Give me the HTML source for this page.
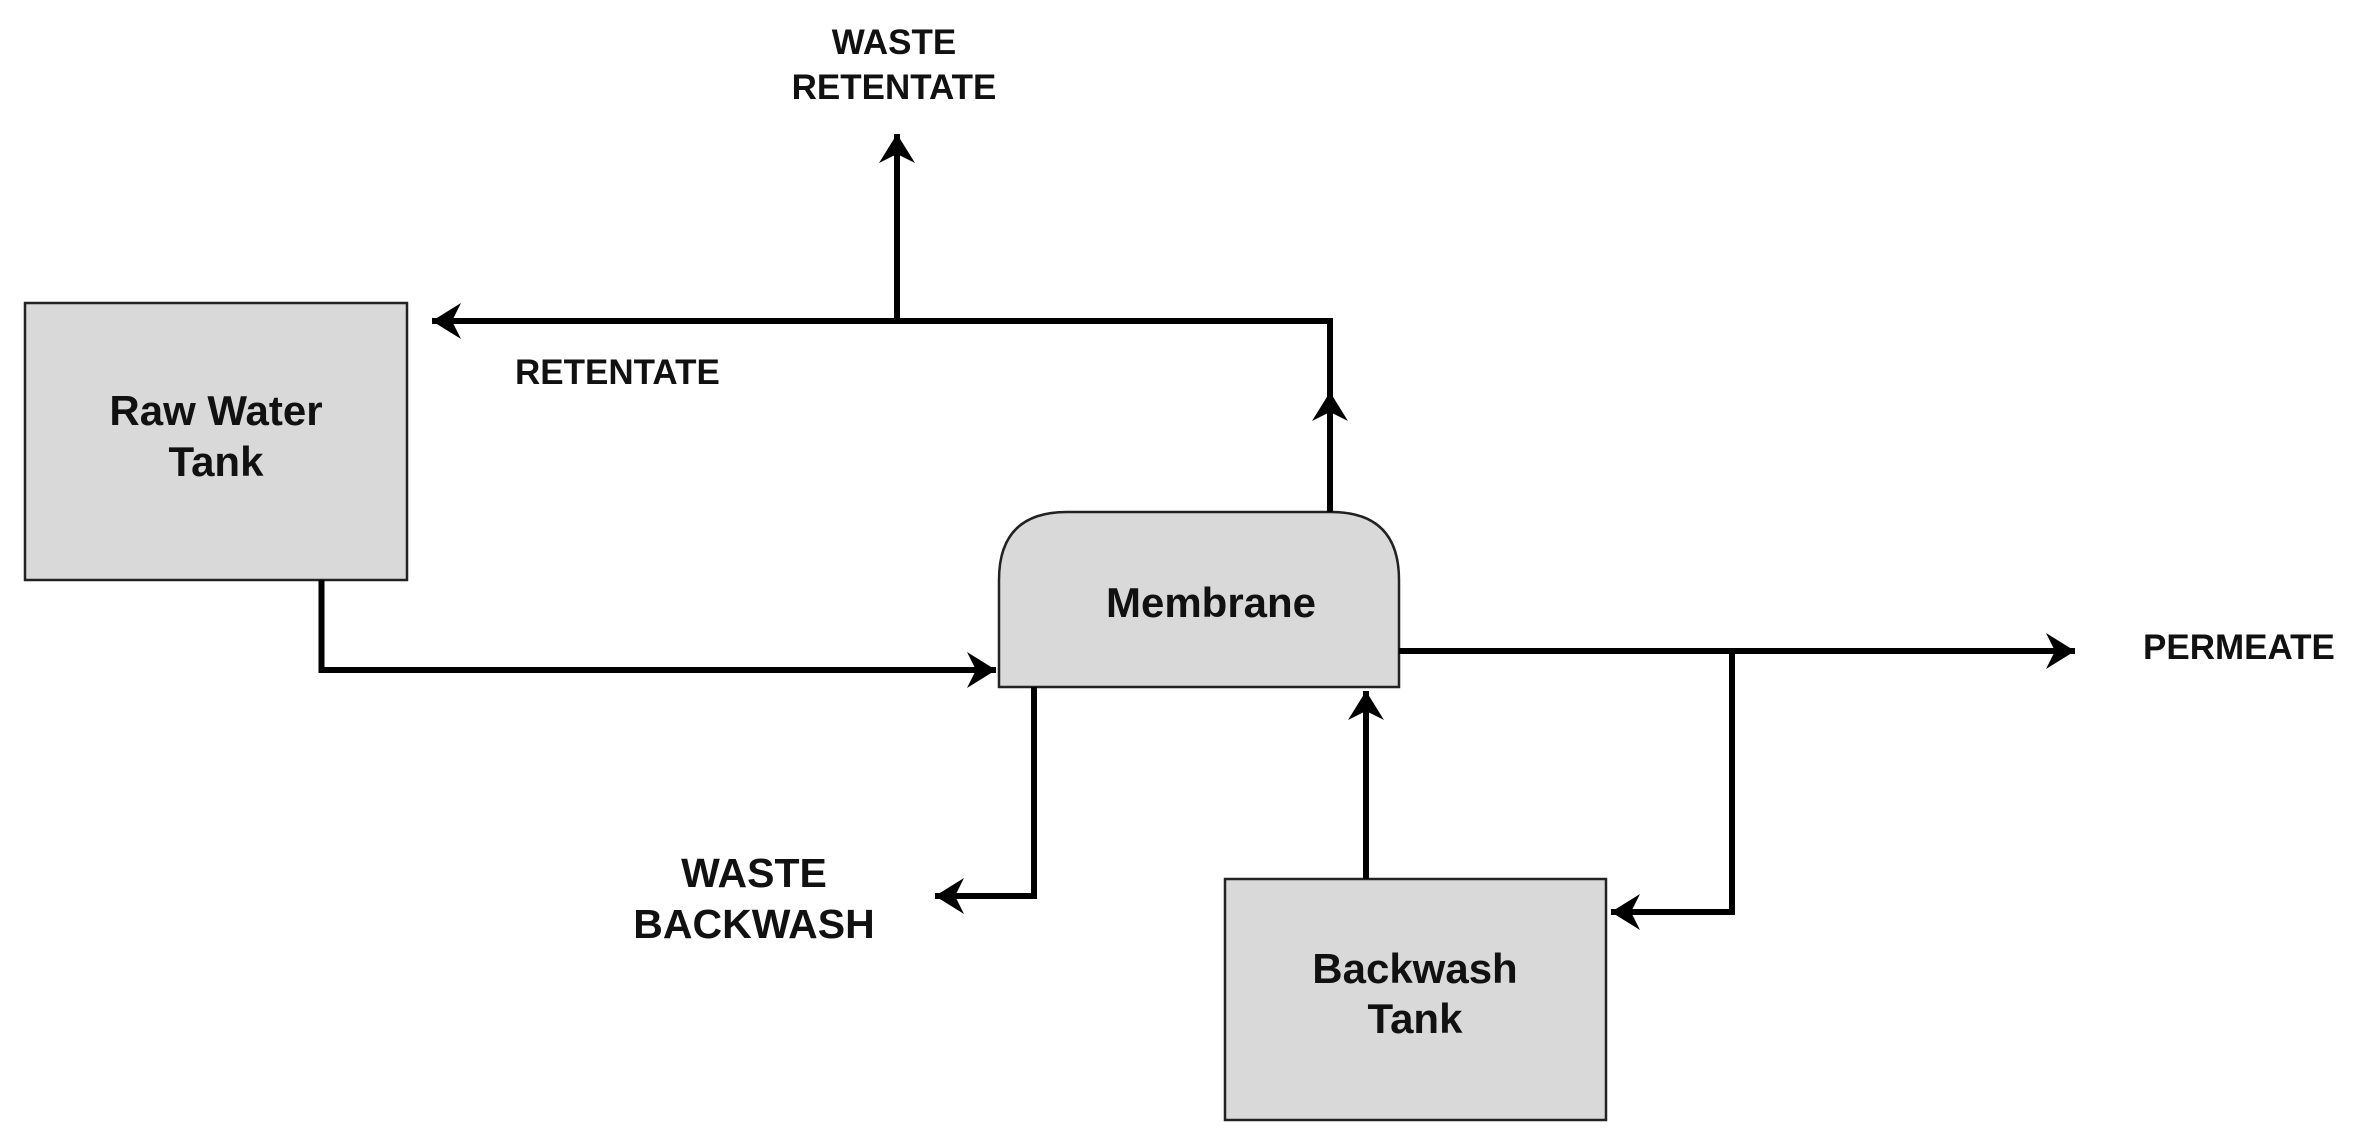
<!DOCTYPE html>
<html><head><meta charset="utf-8"><style>
html,body{margin:0;padding:0;background:#fff}
svg{display:block}
text{font-family:"Liberation Sans",Arial,sans-serif;font-weight:bold;fill:#111}
</style></head><body>
<svg width="2356" height="1144" viewBox="0 0 2356 1144" xmlns="http://www.w3.org/2000/svg">
<defs>
<marker id="a" viewBox="0 0 30 40" refX="29" refY="20" markerWidth="30" markerHeight="40" markerUnits="userSpaceOnUse" orient="auto">
<path d="M29,20 L0,2 L9,20 L0,38 Z" fill="#000"/>
</marker>
</defs>
<g fill="#d9d9d9" stroke="#222" stroke-width="2.5">
<rect x="25" y="303" width="382" height="277"/>
<path d="M999,687 L999,580 Q999,512 1067,512 L1331,512 Q1399,512 1399,580 L1399,687 Z"/>
<rect x="1225" y="879" width="381" height="241"/>
</g>
<g stroke="#000" stroke-width="6" fill="none" stroke-linejoin="miter">
<polyline points="1330,512 1330,321 432,321" marker-end="url(#a)"/>
<line x1="1330" y1="470" x2="1330" y2="392" marker-end="url(#a)"/>
<line x1="897" y1="321" x2="897" y2="134" marker-end="url(#a)"/>
<polyline points="321.5,580 321.5,670 996,670" marker-end="url(#a)"/>
<line x1="1399" y1="651" x2="2075" y2="651" marker-end="url(#a)"/>
<polyline points="1732,651 1732,912 1611,912" marker-end="url(#a)"/>
<line x1="1366" y1="879" x2="1366" y2="691" marker-end="url(#a)"/>
<polyline points="1034,687 1034,896 935,896" marker-end="url(#a)"/>
</g>
<g text-anchor="middle">
<text x="216" y="425" font-size="42">Raw Water</text>
<text x="216" y="476" font-size="42">Tank</text>
<text x="1211" y="617" font-size="42">Membrane</text>
<text x="1415" y="983" font-size="42">Backwash</text>
<text x="1415" y="1033" font-size="42">Tank</text>
<text x="894" y="54" font-size="35">WASTE</text>
<text x="894" y="99" font-size="35">RETENTATE</text>
<text x="754" y="887" font-size="41">WASTE</text>
<text x="754" y="938" font-size="41">BACKWASH</text>
</g>
<text x="515" y="384" font-size="35">RETENTATE</text>
<text x="2143" y="659" font-size="35">PERMEATE</text>
</svg>
</body></html>
